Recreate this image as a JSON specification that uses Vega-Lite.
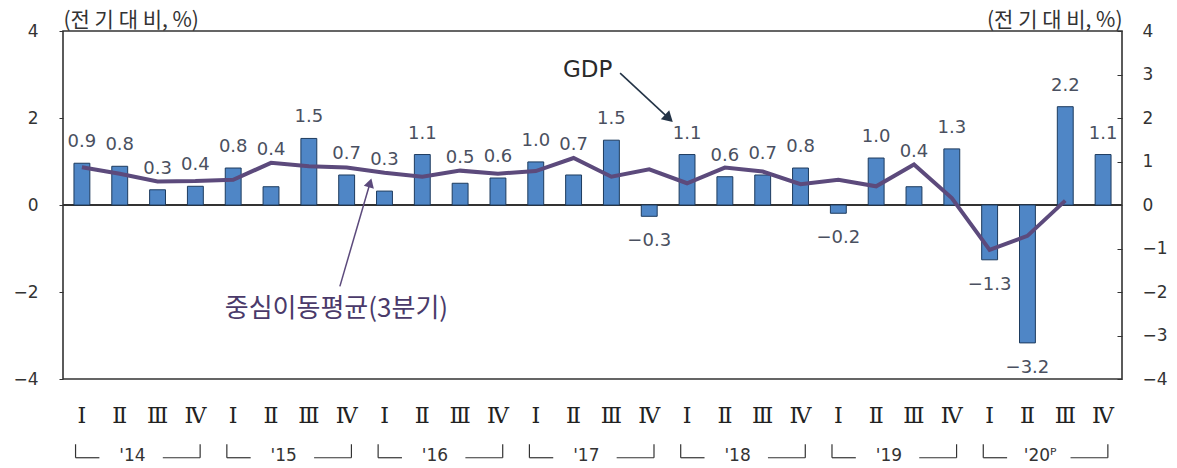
{
  "$schema": "https://vega.github.io/schema/vega-lite/v6.json",
  "width": 1059,
  "height": 348,
  "autosize": {"type": "none"},
  "padding": {"left": 63, "top": 31, "right": 55, "bottom": 89},
  "background": "white",
  "config": {
    "view": {"stroke": "#333333", "strokeWidth": 1.6},
    "axis": {"domain": false, "grid": false}
  },
  "datasets": {
    "gdp": [
      {"q": "2014-1", "v": 0.96, "lbl": "0.9", "ma": 0.87},
      {"q": "2014-2", "v": 0.89, "lbl": "0.8", "ma": 0.72},
      {"q": "2014-3", "v": 0.35, "lbl": "0.3", "ma": 0.54},
      {"q": "2014-4", "v": 0.43, "lbl": "0.4", "ma": 0.55},
      {"q": "2015-1", "v": 0.85, "lbl": "0.8", "ma": 0.58},
      {"q": "2015-2", "v": 0.42, "lbl": "0.4", "ma": 0.97},
      {"q": "2015-3", "v": 1.53, "lbl": "1.5", "ma": 0.89},
      {"q": "2015-4", "v": 0.69, "lbl": "0.7", "ma": 0.86},
      {"q": "2016-1", "v": 0.32, "lbl": "0.3", "ma": 0.74},
      {"q": "2016-2", "v": 1.16, "lbl": "1.1", "ma": 0.65},
      {"q": "2016-3", "v": 0.50, "lbl": "0.5", "ma": 0.79},
      {"q": "2016-4", "v": 0.62, "lbl": "0.6", "ma": 0.72},
      {"q": "2017-1", "v": 0.99, "lbl": "1.0", "ma": 0.78},
      {"q": "2017-2", "v": 0.69, "lbl": "0.7", "ma": 1.08},
      {"q": "2017-3", "v": 1.49, "lbl": "1.5", "ma": 0.65},
      {"q": "2017-4", "v": -0.26, "lbl": "−0.3", "ma": 0.82},
      {"q": "2018-1", "v": 1.16, "lbl": "1.1", "ma": 0.50},
      {"q": "2018-2", "v": 0.65, "lbl": "0.6", "ma": 0.86},
      {"q": "2018-3", "v": 0.69, "lbl": "0.7", "ma": 0.77},
      {"q": "2018-4", "v": 0.85, "lbl": "0.8", "ma": 0.48},
      {"q": "2019-1", "v": -0.19, "lbl": "−0.2", "ma": 0.58},
      {"q": "2019-2", "v": 1.08, "lbl": "1.0", "ma": 0.43},
      {"q": "2019-3", "v": 0.42, "lbl": "0.4", "ma": 0.93},
      {"q": "2019-4", "v": 1.29, "lbl": "1.3", "ma": 0.16},
      {"q": "2020-1", "v": -1.26, "lbl": "−1.3", "ma": -1.03},
      {"q": "2020-2", "v": -3.17, "lbl": "−3.2", "ma": -0.71},
      {"q": "2020-3", "v": 2.26, "lbl": "2.2", "ma": 0.10},
      {"q": "2020-4", "v": 1.16, "lbl": "1.1", "ma": null}
    ],
    "years": [
      {"yr": "'14", "q1": "2014-1", "q2": "2014-2", "q4": "2014-4"},
      {"yr": "'15", "q1": "2015-1", "q2": "2015-2", "q4": "2015-4"},
      {"yr": "'16", "q1": "2016-1", "q2": "2016-2", "q4": "2016-4"},
      {"yr": "'17", "q1": "2017-1", "q2": "2017-2", "q4": "2017-4"},
      {"yr": "'18", "q1": "2018-1", "q2": "2018-2", "q4": "2018-4"},
      {"yr": "'19", "q1": "2019-1", "q2": "2019-2", "q4": "2019-4"},
      {"yr": "'20ᴾ", "q1": "2020-1", "q2": "2020-2", "q4": "2020-4"}
    ],
    "arrows": [
      {"who": "gdp", "x": 14.73, "y": 3.03, "x2": 16.02, "y2": 1.99},
      {"who": "ma", "x": 7.32, "y": -1.87, "x2": 8.12, "y2": 0.51}
    ],
    "notes": [
      {"who": "gdp", "x": 13.87, "y": 3.105, "txt": "GDP"},
      {"who": "ma", "x": 7.23, "y": -2.4, "txt": "중심이동평균(3분기)"}
    ]
  },
  "layer": [
    {
      "data": {"name": "years"},
      "encoding": {
        "y": {"datum": 0, "type": "quantitative", "scale": {"domain": [-4, 4], "nice": false}, "axis": null}
      },
      "layer": [
        {
          "mark": {"type": "rule", "color": "#333333", "strokeWidth": 1.5},
          "encoding": {"y": {"datum": 0, "type": "quantitative"}}
        },
        {
          "mark": {"type": "rule", "color": "#333333", "strokeWidth": 1.2},
          "encoding": {
            "x": {
              "field": "q1", "type": "nominal", "bandPosition": 0.1, "axis": null,
              "scale": {
                "type": "band", "paddingInner": 0.58, "paddingOuter": 0.29,
                "domain": ["2014-1","2014-2","2014-3","2014-4","2015-1","2015-2","2015-3","2015-4","2016-1","2016-2","2016-3","2016-4","2017-1","2017-2","2017-3","2017-4","2018-1","2018-2","2018-3","2018-4","2019-1","2019-2","2019-3","2019-4","2020-1","2020-2","2020-3","2020-4"]
              }
            },
            "y": {"datum": -5.5, "type": "quantitative"},
            "y2": {"datum": -5.81}
          }
        },
        {
          "mark": {"type": "rule", "color": "#333333", "strokeWidth": 1.2},
          "encoding": {
            "x": {"field": "q1", "type": "nominal", "bandPosition": 0.1},
            "x2": {"field": "q1", "bandPosition": 1.6},
            "y": {"datum": -5.81, "type": "quantitative"}
          }
        },
        {
          "mark": {"type": "rule", "color": "#333333", "strokeWidth": 1.2},
          "encoding": {
            "x": {"field": "q4", "type": "nominal", "bandPosition": 0.8},
            "y": {"datum": -5.5, "type": "quantitative"},
            "y2": {"datum": -5.81}
          }
        },
        {
          "mark": {"type": "rule", "color": "#333333", "strokeWidth": 1.2},
          "encoding": {
            "x": {"field": "q4", "type": "nominal", "bandPosition": -1.55},
            "x2": {"field": "q4", "bandPosition": 0.8},
            "y": {"datum": -5.81, "type": "quantitative"}
          }
        },
        {
          "mark": {"type": "text", "align": "center", "baseline": "middle",
                   "font": "DejaVu Sans", "fontSize": 17, "color": "#333333"},
          "encoding": {
            "x": {"field": "q2", "type": "nominal", "bandPosition": 1.3},
            "y": {"datum": -5.78, "type": "quantitative"},
            "text": {"field": "yr", "type": "nominal"}
          }
        }
      ]
    },
    {
      "data": {"name": "gdp"},
      "encoding": {
        "x": {
          "field": "q", "type": "nominal",
          "scale": {"type": "band", "paddingInner": 0.58, "paddingOuter": 0.29},
          "axis": {
            "orient": "bottom", "title": null, "ticks": false, "domain": false,
            "labelAngle": 0, "labelPadding": 26, "labelFontSize": 22,
            "labelFont": "DejaVu Serif", "labelColor": "#222222",
            "labelOverlap": false, "labelBaseline": "top",
            "labelExpr": "['Ⅰ','Ⅱ','Ⅲ','Ⅳ'][toNumber(substring(datum.label, 5, 6)) - 1]"
          }
        },
        "y": {
          "field": "v", "type": "quantitative",
          "scale": {"domain": [-4, 4], "nice": false},
          "axis": {
            "orient": "left", "values": [-4, -2, 0, 2, 4], "tickSize": 4, "tickColor": "#333333",
            "labelPadding": 21, "labelFontSize": 17, "labelFont": "DejaVu Sans",
            "labelColor": "#333333",
            "title": "(전 기 대 비, %)", "titleAngle": 0, "titleX": 0, "titleY": -11,
            "titleAlign": "left", "titleBaseline": "middle",
            "titleFont": "Noto Sans CJK KR", "titleFontSize": 21,
            "titleFontWeight": "normal", "titleColor": "#333333"
          }
        }
      },
      "layer": [
        {
          "mark": {"type": "bar", "fill": "#4F86C6", "stroke": "#1D3B5E", "strokeWidth": 1}
        },
        {
          "mark": {"type": "line", "color": "#5C4A7C", "strokeWidth": 4, "strokeJoin": "miter"},
          "encoding": {
            "y": {
              "field": "ma", "type": "quantitative",
              "axis": {
                "orient": "left", "values": [-4, -2, 0, 2, 4], "tickSize": 4, "tickColor": "#333333",
                "labelPadding": 21, "labelFontSize": 17, "labelFont": "DejaVu Sans",
                "labelColor": "#333333",
                "title": "(전 기 대 비, %)", "titleAngle": 0, "titleX": 0, "titleY": -11,
                "titleAlign": "left", "titleBaseline": "middle",
                "titleFont": "Noto Sans CJK KR", "titleFontSize": 21,
                "titleFontWeight": "normal", "titleColor": "#333333"
              }
            }
          }
        },
        {
          "transform": [{"filter": "datum.v >= 0 && (datum.ma == null || datum.ma <= datum.v + 0.25)"}],
          "mark": {"type": "text", "baseline": "middle", "align": "center", "dy": -21,
                   "font": "DejaVu Sans", "fontSize": 18, "color": "#4A5060"},
          "encoding": {
            "text": {"field": "lbl", "type": "nominal"}
          }
        },
        {
          "transform": [{"filter": "datum.v >= 0 && datum.ma != null && datum.ma > datum.v + 0.25"}],
          "mark": {"type": "text", "baseline": "middle", "align": "center", "dy": -13,
                   "font": "DejaVu Sans", "fontSize": 18, "color": "#4A5060"},
          "encoding": {
            "y": {
              "field": "ma", "type": "quantitative",
              "axis": {
                "orient": "left", "values": [-4, -2, 0, 2, 4], "tickSize": 4, "tickColor": "#333333",
                "labelPadding": 21, "labelFontSize": 17, "labelFont": "DejaVu Sans",
                "labelColor": "#333333",
                "title": "(전 기 대 비, %)", "titleAngle": 0, "titleX": 0, "titleY": -11,
                "titleAlign": "left", "titleBaseline": "middle",
                "titleFont": "Noto Sans CJK KR", "titleFontSize": 21,
                "titleFontWeight": "normal", "titleColor": "#333333"
              }
            },
            "text": {"field": "lbl", "type": "nominal"}
          }
        },
        {
          "transform": [{"filter": "datum.v < 0"}],
          "mark": {"type": "text", "baseline": "middle", "align": "center", "dy": 25,
                   "font": "DejaVu Sans", "fontSize": 18, "color": "#4A5060"},
          "encoding": {
            "text": {"field": "lbl", "type": "nominal"}
          }
        }
      ]
    },
    {
      "layer": [
        {
          "data": {"name": "arrows"},
          "transform": [{"filter": "datum.who == 'gdp'"}],
          "mark": {"type": "rule", "color": "#243447", "strokeWidth": 1.6},
          "encoding": {
            "x": {"field": "x", "type": "quantitative", "scale": {"domain": [0, 28]}, "axis": null},
            "y": {
              "field": "y", "type": "quantitative",
              "scale": {"domain": [-4, 4], "nice": false},
              "axis": {
                "orient": "right", "values": [-4, -3, -2, -1, 0, 1, 2, 3, 4],
                "tickSize": -5, "tickColor": "#333333", "labelPadding": 25,
                "labelFontSize": 17, "labelFont": "DejaVu Sans", "labelColor": "#333333",
                "title": "(전 기 대 비, %)", "titleAngle": 0, "titleX": 0, "titleY": -11,
                "titleAlign": "right", "titleBaseline": "middle",
                "titleFont": "Noto Sans CJK KR", "titleFontSize": 21,
                "titleFontWeight": "normal", "titleColor": "#333333"
              }
            },
            "x2": {"field": "x2"},
            "y2": {"field": "y2"}
          }
        },
        {
          "data": {"name": "arrows"},
          "transform": [{"filter": "datum.who == 'ma'"}],
          "mark": {"type": "rule", "color": "#5C4A7C", "strokeWidth": 1.5},
          "encoding": {
            "x": {"field": "x", "type": "quantitative"},
            "y": {"field": "y", "type": "quantitative"},
            "x2": {"field": "x2"},
            "y2": {"field": "y2"}
          }
        },
        {
          "data": {"name": "arrows"},
          "transform": [{"filter": "datum.who == 'gdp'"}],
          "mark": {"type": "point", "shape": "triangle-up", "angle": 133, "size": 150,
                   "filled": true, "color": "#243447", "opacity": 1},
          "encoding": {
            "x": {"field": "x2", "type": "quantitative"},
            "y": {"field": "y2", "type": "quantitative"}
          }
        },
        {
          "data": {"name": "arrows"},
          "transform": [{"filter": "datum.who == 'ma'"}],
          "mark": {"type": "point", "shape": "triangle-up", "angle": 16, "size": 110,
                   "filled": true, "color": "#5C4A7C", "opacity": 1},
          "encoding": {
            "x": {"field": "x2", "type": "quantitative"},
            "y": {"field": "y2", "type": "quantitative"}
          }
        },
        {
          "data": {"name": "notes"},
          "transform": [{"filter": "datum.who == 'gdp'"}],
          "mark": {"type": "text", "align": "center", "baseline": "middle",
                   "font": "DejaVu Sans", "fontSize": 23, "color": "#2A2A2A"},
          "encoding": {
            "x": {"field": "x", "type": "quantitative"},
            "y": {"field": "y", "type": "quantitative"},
            "text": {"field": "txt", "type": "nominal"}
          }
        },
        {
          "data": {"name": "notes"},
          "transform": [{"filter": "datum.who == 'ma'"}],
          "mark": {"type": "text", "align": "center", "baseline": "middle",
                   "font": "Noto Sans CJK KR", "fontSize": 26, "color": "#4A3A6A"},
          "encoding": {
            "x": {"field": "x", "type": "quantitative"},
            "y": {"field": "y", "type": "quantitative"},
            "text": {"field": "txt", "type": "nominal"}
          }
        }
      ]
    }
  ],
  "resolve": {"scale": {"x": "independent", "y": "independent"}}
}
